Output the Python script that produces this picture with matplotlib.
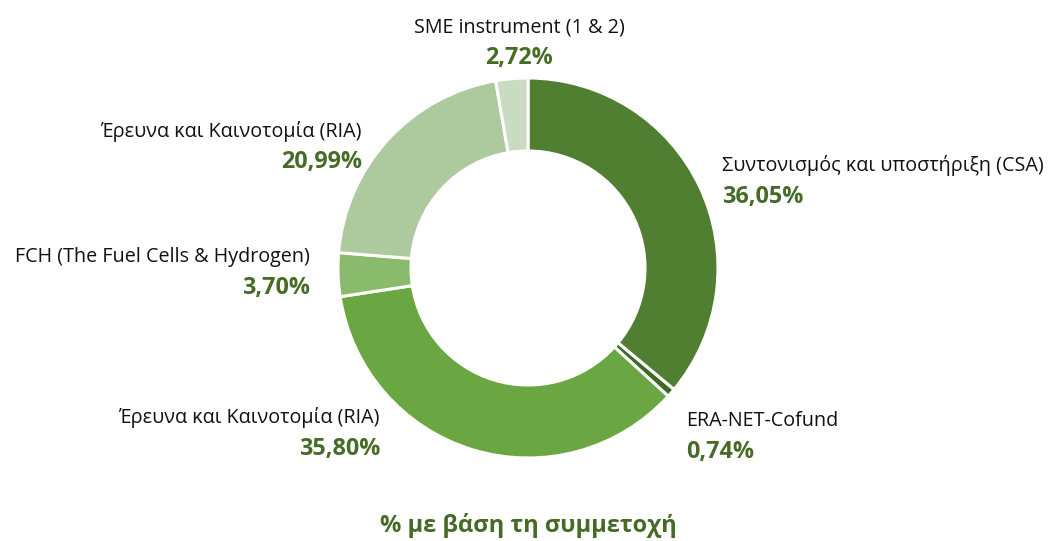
import matplotlib.pyplot as plt

# data
labels = ['Συντονισμός και υποστήριξη (CSA)', 'ERA-NET-Cofund', 'Έρευνα και Καινοτομία (RIA)',
          'FCH (The Fuel Cells & Hydrogen)', 'Έρευνα και Καινοτομία (RIA)', 'SME instrument (1 & 2)']
values = [36.05, 0.74, 35.80, 3.70, 20.99, 2.72]
colors = ['#507f32', '#3f6a25', '#6aa642', '#8aba6b', '#adca9f', '#c9dcc1']
title = '% με βάση τη συμμετοχή'

# label layout in pixels (x, y of name line, alignment)
label_pos = [(722, 166, 'left'), (686, 421, 'left'), (380, 418, 'right'),
             (310, 257, 'right'), (362, 131, 'right'), (519, 27, 'center')]

W, H = 1049, 541
plt.rcParams['font.family'] = ['Open Sans', 'DejaVu Sans']
fig = plt.figure(figsize=(W / 100, H / 100), dpi=100)
ax = fig.add_axes([0, 0, 1, 1])

ax.pie(values, colors=colors, startangle=90, counterclock=False,
       center=(528, H - 268), radius=190,
       wedgeprops=dict(width=73, edgecolor='white', linewidth=2.2))

# pie() resets the limits, so set them afterwards
ax.set_xlim(0, W)
ax.set_ylim(0, H)
ax.set_aspect('equal')
ax.axis('off')

val_color = '#466b26'
for name, v, (x, y, ha) in zip(labels, values, label_pos):
    ax.text(x, H - y, name, ha=ha, va='center', fontsize=14.2, color='#111111')
    ax.text(x, H - y - 31, f'{v:.2f}%'.replace('.', ','), ha=ha, va='center',
            fontsize=16.8, fontweight='bold', color=val_color)

ax.text(528, H - 525, title, ha='center', va='center', fontsize=17,
        fontweight='bold', color=val_color)

fig.savefig('out.png', dpi=100)
